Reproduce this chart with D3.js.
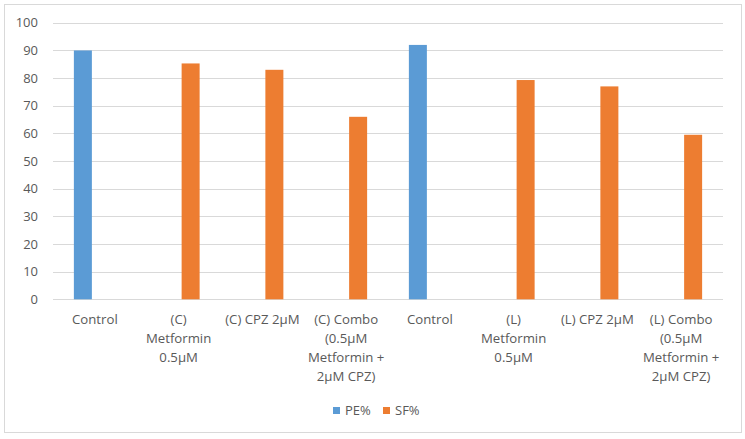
<!DOCTYPE html>
<html><head><meta charset="utf-8">
<script src="https://cdn.jsdelivr.net/npm/d3@7"></script>
<style>body{margin:0;background:#fff}svg{display:block}</style>
</head><body>
<script>
const categories = ["Control","(C) Metformin 0.5μM","(C) CPZ 2μM","(C) Combo (0.5μM Metformin + 2μM CPZ)","Control","(L) Metformin 0.5μM","(L) CPZ 2μM","(L) Combo (0.5μM Metformin + 2μM CPZ)"];
const seriesNames = ["PE%","SF%"];
const peValues = [90, null, null, null, 92, null, null, null];
const sfValues = [null, 85.3, 83, 66, null, 79.3, 77, 59.5];
const yTicks = [0,10,20,30,40,50,60,70,80,90,100];
const colors = ["#5B9BD5","#ED7D31"];

const W = 745, H = 439;
const svg = d3.select("body").append("svg").attr("width", W).attr("height", H);
const font = "'Open Sans', 'Noto Sans', sans-serif";
const textColor = "#595959";

svg.append("rect").attr("x",4.5).attr("y",4.5).attr("width",737).attr("height",428)
  .attr("fill","#fff").attr("stroke","#D9D9D9").attr("stroke-width",1);

const x = d3.scaleBand().domain(d3.range(categories.length)).range([53, 723]).padding(0);
const y = d3.scaleLinear().domain([0,100]).range([299.3, 22.8]);

// gridlines
svg.append("g").selectAll("line").data(yTicks).join("line")
  .attr("x1",53).attr("x2",723)
  .attr("y1",d=>Math.round(y(d))+0.5).attr("y2",d=>Math.round(y(d))+0.5)
  .attr("stroke","#D9D9D9").attr("stroke-width",1);

// y axis labels
const yAxis = d3.axisLeft(y).tickValues(yTicks).tickSize(0).tickPadding(0);
const gy = svg.append("g").attr("transform","translate(38,0)").call(yAxis);
gy.select(".domain").remove();
gy.selectAll("text").attr("fill",textColor).attr("font-family",font).attr("font-size","13px");

// bars
const barW = 18, offset = 12;
const series = [peValues, sfValues];
series.forEach((vals, si) => {
  svg.append("g").selectAll("rect").data(vals.map((v,i)=>({v,i})).filter(d=>d.v!=null)).join("rect")
    .attr("x", d => x(d.i) + x.bandwidth()/2 + (si===0 ? -offset : offset) - barW/2)
    .attr("y", d => y(d.v))
    .attr("width", barW)
    .attr("height", d => y(0) - y(d.v))
    .attr("fill", colors[si]);
});

// category labels with wrapping
const maxW = 80;
const catSize = "13.2px";
const measure = svg.append("text").attr("font-family",font).attr("font-size",catSize);
function wrap(str){
  const words = str.split(" ");
  const lines = []; let cur = "";
  words.forEach(w => {
    const t = cur ? cur + " " + w : w;
    measure.text(t);
    if (measure.node().getComputedTextLength() > maxW && cur) { lines.push(cur); cur = w; }
    else cur = t;
  });
  if (cur) lines.push(cur);
  return lines;
}
const labels = categories.map(wrap);
measure.remove();
const gx = svg.append("g");
labels.forEach((lines, i) => {
  const t = gx.append("text").attr("x", x(i) + x.bandwidth()/2).attr("y", 324)
    .attr("text-anchor","middle").attr("fill",textColor).attr("font-family",font).attr("font-size",catSize);
  lines.forEach((ln, k) => t.append("tspan").attr("x", x(i) + x.bandwidth()/2).attr("dy", k===0?0:19).text(ln));
});

// legend
const leg = [{name:seriesNames[0], c:colors[0], x:333},{name:seriesNames[1], c:colors[1], x:383}];
leg.forEach(l => {
  svg.append("rect").attr("x",l.x).attr("y",407).attr("width",7).attr("height",7).attr("fill",l.c);
  svg.append("text").attr("x",l.x+12).attr("y",415).attr("fill",textColor)
    .attr("font-family",font).attr("font-size","13px").text(l.name);
});
</script>
</body></html>
